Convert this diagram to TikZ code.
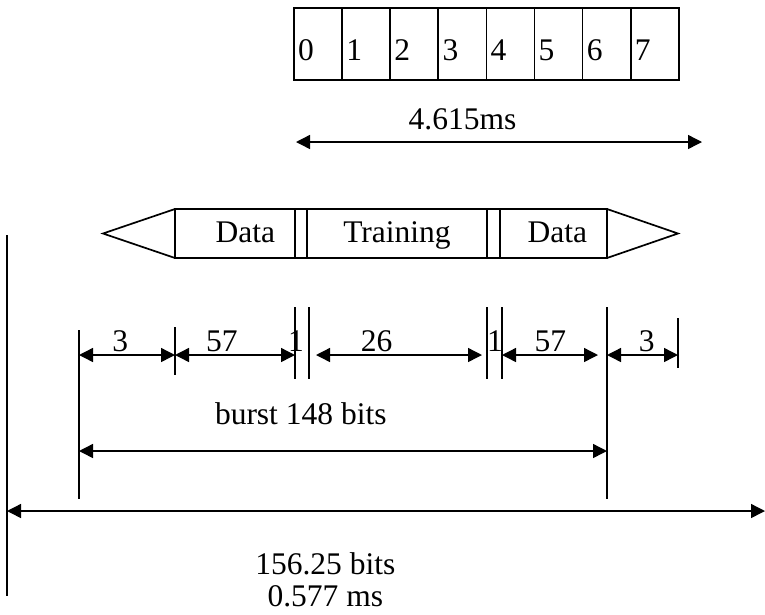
\documentclass[tikz,border=0pt]{standalone}
\usepackage{fontspec}
\setmainfont{Liberation Serif}
\usetikzlibrary{arrows.meta, positioning}

\begin{document}
\begin{tikzpicture}[
    x=1pt, y=-1pt,
    font=\fontsize{31.5}{32}\selectfont,
    slot/.style={rectangle, draw, line width=1.7pt, minimum width=48.1pt, minimum height=72pt, inner sep=0pt, outer sep=0pt},
    field/.style={rectangle, draw, line width=1.7pt, minimum height=49pt, inner sep=0pt, outer sep=0pt, text height=21pt, text depth=4pt},
    tick/.style={line width=1.7pt},
    dim/.style={<->, >={Triangle[length=14pt, width=14pt]}, line width=1.4pt},
    lab/.style={inner sep=0pt, above=3pt}
]
    \useasboundingbox (0,0) rectangle (765,614);

    % TDMA frame: eight time slots
    \foreach \i in {0,...,7}
        \node[slot] (s\i) at (318.05+48.1*\i,44) {};
    \foreach \i in {0,...,7}
        \node[anchor=base west, inner sep=0pt] (d\i) at ([xshift=4pt, yshift=20pt]s\i.south west) {\i};

    \coordinate (f0) at (296,142);
    \coordinate (f1) at (702,142);
    \draw[dim] (f0) -- node[lab, above=11pt, pos=0.41] {4.615ms} (f1);

    % Normal burst
    \node[field, minimum width=120pt, text width=80pt, align=right] (data1) at (235,233.5) {Data};
    \node[field, minimum width=180pt] (train) at (397,233.5) {Training};
    \node[field, minimum width=107pt, text width=67pt, align=right] (data2) at (553.5,233.5) {Data};
    \coordinate (tipL) at ([xshift=-72pt]data1.west);
    \coordinate (tipR) at ([xshift=71pt]data2.east);
    \draw[tick] (tipL) -- (data1.north west) -- (data2.north east) -- (tipR)
        -- (data2.south east) -- (data1.south west) -- cycle;

    % Bit counts
    \coordinate (m0) at (79,355);
    \coordinate (m1) at (175,355);
    \coordinate (m2) at (295,355);
    \coordinate (m3) at (309,355);
    \coordinate (m4) at (487,355);
    \coordinate (m5) at (502,355);
    \coordinate (m6) at (607,355);
    \coordinate (m7) at (678,355);

    \draw[tick] ([yshift=25pt]m0) -- ([yshift=-144pt]m0);
    \draw[tick] ([yshift=28pt]m1) -- ([yshift=-20pt]m1);
    \foreach \m in {m2,m3,m4,m5}
        \draw[tick] ([yshift=48pt]\m) -- ([yshift=-24pt]\m);
    \draw[tick] ([yshift=48pt]m6) -- ([yshift=-144pt]m6);
    \draw[tick] ([yshift=37pt]m7) -- ([yshift=-13pt]m7);

    \draw[dim] (m0) -- node[lab, pos=0.43] {3} (m1);
    \draw[dim] (m1) -- node[lab, pos=0.39] {57} (m2);
    \node[lab] (bit1) at (296,355) {1};
    \draw[dim, shorten <=7pt, shorten >=5pt] (m3) -- node[lab, pos=0.38] {26} (m4);
    \node[lab] (bit2) at (495,355) {1};
    \draw[dim, shorten >=9pt] (m5) -- node[lab, pos=0.46] {57} (m6);
    \draw[dim] (m6) -- node[lab, pos=0.56] {3} (m7);

    % Burst and slot length
    \coordinate (b0) at (79,451);
    \coordinate (b1) at (607,451);
    \draw[dim] (b0) -- node[lab, above=26pt, pos=0.42] {burst 148 bits} (b1);

    \draw[tick] (7,235) -- (7,596);
    \coordinate (g0) at (7,511);
    \coordinate (g1) at (765,511);
    \draw[dim] (g0) -- node[inner sep=0pt, below=41pt, align=center, pos=0.42] {156.25 bits\\0.577 ms} (g1);
\end{tikzpicture}
\end{document}
